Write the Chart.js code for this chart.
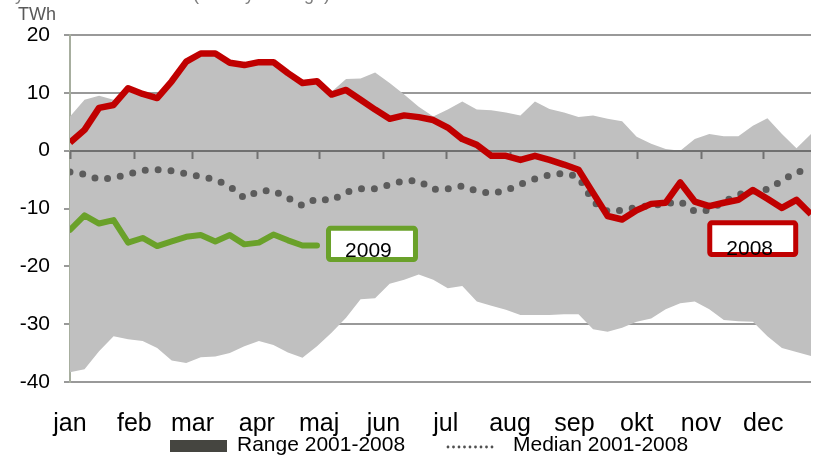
<!DOCTYPE html>
<html>
<head>
<meta charset="utf-8">
<script src="https://cdn.jsdelivr.net/npm/chart.js@4.4.0/dist/chart.umd.min.js"></script>
<style>
  html, body { margin: 0; padding: 0; background: #fff; }
  canvas { display: block; }
</style>
</head>
<body>
<canvas id="chart" width="813" height="459"></canvas>
<script>
// weekly values, TWh
const months = ['jan', 'feb', 'mar', 'apr', 'maj', 'jun', 'jul', 'aug', 'sep', 'okt', 'nov', 'dec'];
const monthStartDay = [0, 31, 59, 90, 120, 151, 181, 212, 243, 273, 304, 334];

const series2008 = [1.4, 3.6, 7.4, 7.9, 10.8, 9.8, 9.1, 12.0, 15.4, 16.8, 16.8, 15.2, 14.8, 15.3, 15.3, 13.4,
  11.7, 12.0, 9.7, 10.5, 8.8, 7.1, 5.5, 6.1, 5.8, 5.3, 4.0, 2.0, 1.0, -0.9, -0.9, -1.6, -0.9, -1.6, -2.4, -3.3,
  -7.3, -11.3, -11.9, -10.3, -9.2, -9.0, -5.5, -8.8, -9.6, -9.0, -8.5, -6.8, -8.3, -9.9, -8.5, -11.0];

const series2009 = [-13.7, -11.2, -12.6, -12.0, -15.9, -15.1, -16.5, -15.7, -14.9, -14.6, -15.7, -14.6,
  -16.2, -15.9, -14.5, -15.5, -16.4, -16.4];

const median = [-3.7, -4.1, -5.0, -4.7, -4.1, -3.4, -3.3, -3.5, -4.0, -4.5, -5.0, -6.2, -8.2, -7.0, -6.9, -8.2,
  -9.5, -8.3, -8.6, -7.2, -6.6, -6.6, -5.9, -5.2, -5.2, -6.7, -6.6, -6.1, -7.0, -7.4, -6.9, -5.8, -4.9, -4.2,
  -3.9, -4.5, -8.8, -10.5, -10.3, -9.8, -9.5, -9.2, -8.8, -10.5, -10.3, -8.8, -7.6, -7.0, -6.7, -5.2, -3.7, -3.3];

const rangeMax = [5.9, 8.8, 9.5, 8.8, 10.8, 9.8, 9.1, 12.0, 15.4, 16.8, 16.8, 15.2, 14.8, 15.3, 15.3, 13.4,
  11.7, 12.0, 10.2, 12.4, 12.5, 13.5, 11.7, 9.7, 7.6, 5.9, 7.1, 8.5, 7.1, 7.0, 6.6, 6.1, 8.5, 7.2, 6.6, 5.8,
  6.1, 5.5, 5.1, 2.4, 1.2, 0.3, 0.0, 2.0, 2.9, 2.5, 2.5, 4.3, 5.6, 2.9, 0.4, 2.9];

const rangeMin = [-38.3, -37.8, -34.7, -32.1, -32.6, -32.9, -34.1, -36.3, -36.7, -35.7, -35.6, -35.0, -33.8,
  -32.9, -33.6, -34.9, -35.8, -33.8, -31.5, -28.9, -25.7, -25.5, -23.0, -22.3, -21.4, -22.3, -23.8, -23.4,
  -26.1, -26.8, -27.5, -28.4, -28.4, -28.4, -28.3, -28.3, -30.9, -31.3, -30.6, -29.6, -29.0, -27.4, -26.4,
  -26.1, -27.4, -29.3, -29.5, -29.6, -32.1, -34.1, -34.8, -35.5];

const yTicks = [-40, -30, -20, -10, 0, 10, 20];

// month starts expressed in weeks (x axis runs over week index 0..51)
const monthStartWeek = monthStartDay.map(d => d / 7);

const toPoints = arr => arr.map((v, i) => ({ x: i, y: v }));

const FONT = "'Liberation Sans', Arial, sans-serif";

// boxed year labels, placed in axis units
const yearLabels = [
  { text: '2009', color: '#6aa12a', x0: 17.62, x1: 23.95, y0: -13.0, y1: -19.25, tx: 20.54, ty: -18.4 },
  { text: '2008', color: '#c00000', x0: 43.86, x1: 50.12, y0: -12.05, y1: -18.38, tx: 46.78, ty: -18.0 }
];

const decorations = {
  id: 'decorations',
  beforeDatasetDraw(chart, args) {
    // zero axis with month tick marks, above the range area but under the lines
    if (args.index !== 2) return;
    const { ctx, chartArea, scales: { x, y } } = chart;
    const y0 = Math.round(y.getPixelForValue(0));
    ctx.save();
    ctx.strokeStyle = '#707070';
    ctx.lineWidth = 2;
    ctx.beginPath();
    ctx.moveTo(chartArea.left, y0);
    ctx.lineTo(chartArea.right, y0);
    monthStartWeek.forEach(w => {
      const px = Math.round(x.getPixelForValue(w)) + 0.5;
      ctx.moveTo(px, y0);
      ctx.lineTo(px, y0 + 8);
    });
    ctx.stroke();
    ctx.restore();
  },
  afterDatasetsDraw(chart) {
    const { ctx, scales: { x, y } } = chart;
    ctx.save();
    yearLabels.forEach(l => {
      const lw = 5;
      const left = x.getPixelForValue(l.x0) + lw / 2;
      const right = x.getPixelForValue(l.x1) - lw / 2;
      const top = y.getPixelForValue(l.y0) + lw / 2;
      const bottom = y.getPixelForValue(l.y1) - lw / 2;
      ctx.beginPath();
      if (ctx.roundRect) ctx.roundRect(left, top, right - left, bottom - top, 2);
      else ctx.rect(left, top, right - left, bottom - top);
      ctx.fillStyle = '#fff';
      ctx.fill();
      ctx.lineWidth = lw;
      ctx.strokeStyle = l.color;
      ctx.stroke();
      ctx.fillStyle = '#000';
      ctx.font = '21px ' + FONT;
      ctx.textAlign = 'center';
      ctx.textBaseline = 'alphabetic';
      ctx.fillText(l.text, x.getPixelForValue(l.tx), y.getPixelForValue(l.ty));
    });
    ctx.restore();
  },
  afterDraw(chart) {
    const { ctx } = chart;
    ctx.save();
    // title, mostly cut off at the top edge
    ctx.fillStyle = '#7f7f7f';
    ctx.font = '18px ' + FONT;
    ctx.textBaseline = 'alphabetic';
    ctx.textAlign = 'left';
    ctx.fillText('Hydro balance', 2, 0);
    ctx.fillText('(weekly average)', 193, 0);

    // unit
    ctx.fillStyle = '#595959';
    ctx.fillText('TWh', 18, 20);

    // legend
    ctx.fillStyle = '#454540';
    ctx.fillRect(170, 440, 57, 12);
    ctx.fillStyle = '#000';
    ctx.font = '21px ' + FONT;
    ctx.textBaseline = 'middle';
    ctx.fillText('Range 2001-2008', 237, 445);
    ctx.fillText('Median 2001-2008', 513, 445);
    ctx.strokeStyle = '#505050';
    ctx.lineWidth = 2.8;
    ctx.lineCap = 'round';
    ctx.setLineDash([0, 5.5]);
    ctx.beginPath();
    ctx.moveTo(448, 447);
    ctx.lineTo(493, 447);
    ctx.stroke();
    ctx.restore();
  }
};

new Chart(document.getElementById('chart'), {
  type: 'line',
  data: {
    datasets: [
      {
        label: '2008',
        data: toPoints(series2008),
        borderColor: '#c00000',
        borderWidth: 6.5,
        borderJoinStyle: 'round',
        pointRadius: 0,
        fill: false
      },
      {
        label: '2009',
        data: toPoints(series2009),
        borderColor: '#6aa12a',
        borderWidth: 6,
        borderJoinStyle: 'round',
        borderCapStyle: 'round',
        pointRadius: 0,
        fill: false
      },
      {
        label: 'Median 2001-2008',
        data: toPoints(median),
        borderColor: '#5c5c5c',
        borderWidth: 7,
        borderCapStyle: 'round',
        borderDash: [0, 12.9],
        pointRadius: 0,
        fill: false
      },
      {
        label: 'Range 2001-2008',
        data: toPoints(rangeMax),
        borderWidth: 0,
        borderColor: 'rgba(0,0,0,0)',
        backgroundColor: '#c0c0c0',
        pointRadius: 0,
        fill: '+1'
      },
      {
        label: 'Range min',
        data: toPoints(rangeMin),
        borderWidth: 0,
        borderColor: 'rgba(0,0,0,0)',
        pointRadius: 0,
        fill: false
      }
    ]
  },
  options: {
    responsive: false,
    animation: false,
    layout: { padding: { top: 35, right: 2, left: 0, bottom: 0 } },
    plugins: {
      legend: { display: false },
      tooltip: { enabled: false }
    },
    scales: {
      x: {
        type: 'linear',
        min: 0,
        max: 51,
        afterBuildTicks: scale => { scale.ticks = monthStartWeek.map(v => ({ value: v })); },
        afterFit: scale => { scale.height = 77; },
        grid: { display: false, drawTicks: false },
        border: { display: false },
        ticks: {
          autoSkip: false,
          maxRotation: 0,
          padding: 27,
          color: '#000',
          font: { family: FONT, size: 25 },
          callback: (value, index) => months[index]
        }
      },
      y: {
        min: -40,
        max: 20,
        afterBuildTicks: scale => { scale.ticks = yTicks.map(v => ({ value: v })); },
        afterFit: scale => { scale.width = 70; },
        grid: { color: '#999', lineWidth: 2, tickLength: 6 },
        border: { color: '#a7ae9f', width: 2 },
        ticks: {
          padding: 14,
          color: '#000',
          font: { family: FONT, size: 21 }
        }
      }
    }
  },
  plugins: [decorations]
});
</script>
</body>
</html>
